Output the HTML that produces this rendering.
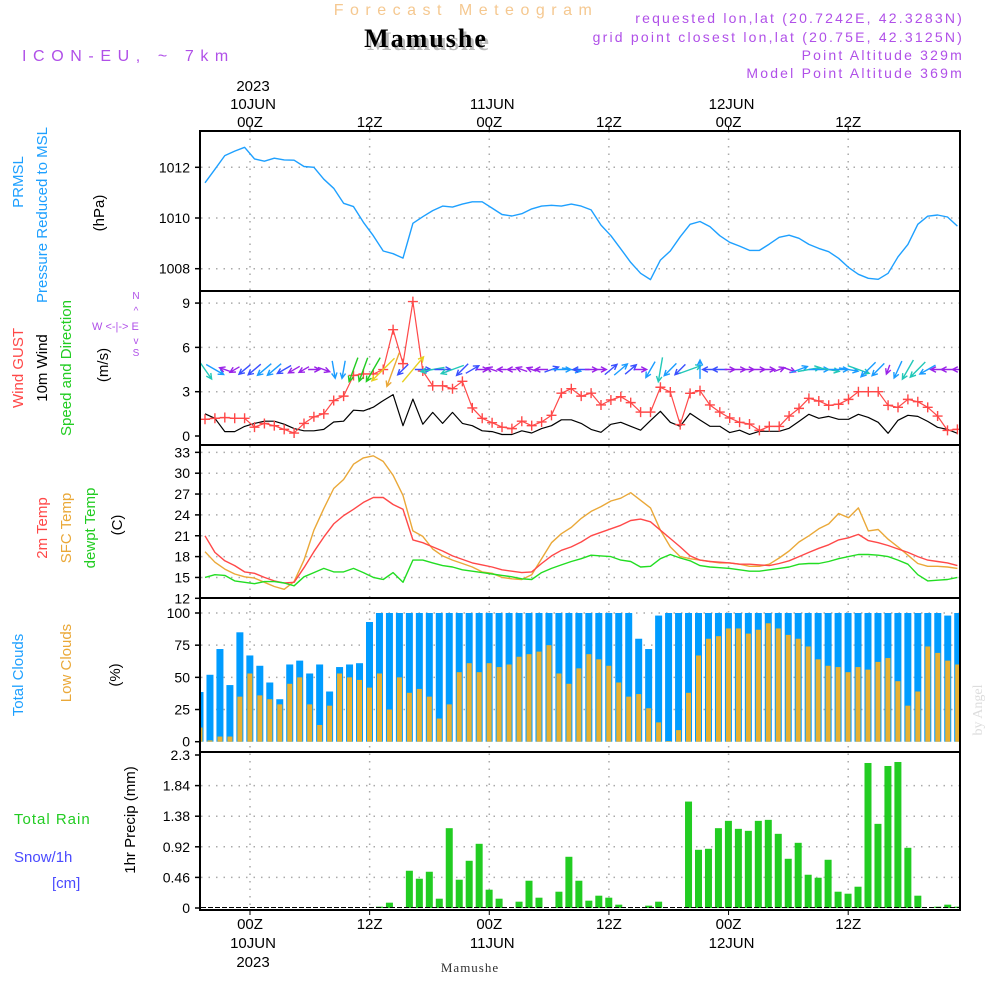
<!DOCTYPE html>
<html><head><meta charset="utf-8"><style>
html,body{margin:0;padding:0;background:#fff;width:1000px;height:1000px;overflow:hidden}
svg{display:block}
text{font-family:"Liberation Sans",sans-serif}
text.serif{font-family:"Liberation Serif",serif}
</style></head><body>
<svg id="chart" width="1000" height="1000" viewBox="0 0 1000 1000">
<defs><clipPath id="plotclip"><rect x="201" y="131" width="758" height="779"/></clipPath></defs>
<g>
<text x="466" y="15" text-anchor="middle" font-size="16" fill="#f5c890" letter-spacing="6.5">Forecast Meteogram</text>
<text class="serif" x="429" y="50" text-anchor="middle" font-size="26" font-weight="bold" fill="#bbb" letter-spacing="2">Mamushe</text>
<text class="serif" x="426" y="47" text-anchor="middle" font-size="26" font-weight="bold" fill="#000" letter-spacing="2">Mamushe</text>
<text x="22" y="61" font-size="16" fill="#b050e8" letter-spacing="6.6">ICON-EU, ~ 7km</text>
<g font-size="14" fill="#b050e8" text-anchor="end" letter-spacing="2.2">
<text x="964" y="23">requested lon,lat (20.7242E, 42.3283N)</text>
<text x="964" y="42">grid point closest lon,lat (20.75E, 42.3125N)</text>
<text x="964" y="60">Point Altitude 329m</text>
<text x="964" y="78">Model Point Altitude 369m</text>
</g>
</g>
<g id="layer"></g>
</svg>
<script>
// ---------- data ----------
const hours = Array.from({length:77},(_,k)=>k-5);
const pressure = [1011.39,1011.92,1012.46,1012.64,1012.79,1012.33,1012.24,1012.36,1012.29,1012.28,1012.03,1012.0,1011.53,1011.17,1010.58,1010.45,1009.83,1009.3,1008.7,1008.59,1008.42,1009.79,1010.05,1010.29,1010.47,1010.43,1010.55,1010.64,1010.64,1010.39,1010.14,1010.08,1010.17,1010.36,1010.47,1010.5,1010.47,1010.55,1010.47,1010.32,
1009.72,1009.3,1008.78,1008.25,1007.82,1007.57,1008.34,1008.7,1009.26,1009.75,1009.86,1009.66,1009.3,1009.04,1008.89,1008.72,1008.72,1008.97,1009.24,1009.32,1009.2,1008.96,1008.8,1008.67,1008.41,1008.05,1007.78,1007.62,1007.58,1007.82,1008.47,1008.96,1009.75,1010.07,1010.12,1010.04,1009.68];
const gust = [1.13,1.2,1.25,1.2,1.2,0.6,0.85,0.7,0.45,0.2,0.85,1.3,1.5,2.4,2.7,4.1,4.2,4.2,4.5,7.2,4.9,9.1,4.4,3.4,3.4,3.2,3.7,1.9,1.2,0.9,0.6,0.5,1.0,0.7,0.95,1.4,2.9,3.2,2.7,2.9,
2.1,2.44,2.66,2.26,1.62,1.62,3.3,2.98,0.77,2.89,3.07,2.1,1.62,1.22,0.93,0.81,0.38,0.65,0.65,1.35,1.87,2.55,2.37,2.08,2.15,2.48,3.0,3.0,3.0,2.08,1.94,2.48,2.32,1.94,1.35,0.38,0.45];
const wind = [1.5,1.2,0.3,0.3,0.65,0.85,1.0,1.0,0.8,0.5,0.35,0.35,0.45,0.95,1.0,1.75,1.7,1.95,2.4,2.8,0.7,2.5,0.8,1.6,0.85,1.6,0.85,0.7,0.35,0.3,0.1,0.1,0.35,0.2,0.5,0.7,1.1,1.1,0.85,0.45,
0.25,0.79,0.93,0.66,0.39,1.04,1.67,0.93,0.66,1.53,1.08,0.66,0.66,0.23,0.39,0.11,0.32,0.32,0.32,0.52,0.99,1.47,1.2,1.33,1.13,1.13,1.47,1.26,0.93,0.18,1.06,1.4,1.33,0.99,0.59,0.45,0.18];
const windDir = [55,30,200,150,140,140,140,140,150,150,150,0,20,80,100,110,110,120,135,110,135,-50,0,170,0,160,135,-30,0,200,180,180,200,200,180,-20,0,10,180,
0,0,-40,-40,-40,0,120,100,135,135,-20,-90,180,180,0,0,0,0,0,-20,20,-20,-10,0,10,0,10,20,135,135,110,115,120,135,150,180,180,180];
const temp2m = [21.0,18.6,17.4,16.7,15.8,15.6,15.0,14.5,14.2,14.3,16.4,18.7,20.8,22.7,23.9,24.8,25.8,26.5,26.5,25.5,24.8,20.4,20.0,19.4,18.8,18.1,17.6,17.1,16.8,16.5,16.1,15.9,15.7,15.8,17.0,18.1,18.9,19.4,20.1,21.0,
21.5,22.0,22.5,23.2,23.4,23.0,21.8,20.6,19.4,18.1,17.5,17.3,17.2,17.1,16.9,16.9,16.8,16.7,17.0,17.4,18.0,18.6,19.2,19.7,20.4,20.7,21.2,20.3,20.0,19.6,19.1,18.6,18.0,17.5,17.3,17.1,16.7];
const tempSfc = [18.7,17.2,16.2,15.5,15.1,14.9,14.3,13.7,13.3,14.4,17.5,21.8,24.9,27.8,29.1,31.3,32.2,32.5,31.7,29.7,26.8,21.7,20.9,19.1,18.1,17.5,17.0,16.5,15.8,15.6,15.0,14.8,14.7,15.4,17.7,20.0,21.3,22.2,23.5,24.5,
25.2,26.0,26.4,27.2,26.1,25.0,21.8,19.4,18.0,17.7,17.5,17.3,17.1,17.1,16.9,16.6,16.6,16.9,17.8,18.8,20.1,21.0,22.0,22.7,24.2,23.6,25.0,21.7,21.9,20.5,19.4,18.2,17.0,16.6,16.6,16.5,16.3];
const dewpt = [15.0,15.4,15.3,14.5,14.3,14.1,14.4,14.4,14.2,13.8,15.1,15.7,16.3,15.8,15.8,16.3,15.7,15.0,14.7,15.7,14.3,17.5,17.5,17.1,16.7,16.5,16.1,15.9,15.7,15.5,15.3,15.1,14.8,14.7,15.7,16.3,16.8,17.3,17.7,18.2,
18.1,18.0,17.5,17.3,16.5,16.6,17.7,18.3,17.8,17.4,16.7,16.5,16.4,16.3,16.1,15.9,15.9,16.1,16.3,16.5,16.9,17.0,17.0,17.3,17.7,18.0,18.3,18.3,18.2,18.0,17.5,16.9,15.4,14.5,14.6,14.7,15.0];
const totalClouds = [38.6,52,72,44,85,67,59,46,33,60,63,53,60,39,58,60,61,93,100,100,100,100,100,100,100,100,100,100,100,100,100,100,100,100,100,100,100,100,100,100,100,100,100,100,80,72,98,100,100,100,100,100,100,100,100,100,100,100,100,100,100,100,100,100,100,100,100,100,100,100,100,100,100,100,100,98,100];
const lowClouds = [11,1,4,4,35,53,36,33,29,45,50,29,13,28,53,50,48,42,53,25,50,38,41,35,18,29,54,61,54,61,58,60,66,68,70,75,53,45,57,68,
64,59,46,35,37,26,15,0.5,9,38,67,80,82,88,88,84,87,92,88,83,80,74,64,59,58,54,58,56,62,65,47,28,39,74,69,63,60];
const precip = [0,0,0,0,0,0,0,0,0,0,0,0,0,0,0,0,0,0,0.02,0.08,0,0.56,0.44,0.545,0.14,1.2,0.425,0.71,0.965,0.275,0.14,0,0.095,0.41,0.155,0,0.245,0.77,0.41,0.11,0.185,0.155,0.05,0,0,0.035,0.095,0,0,1.6,0.875,0.89,1.2,1.31,1.19,1.16,1.31,1.325,1.115,0.74,0.98,0.5,0.455,0.725,0.245,0.215,0.32,2.18,1.265,2.135,2.195,0.905,0.185,0,0.02,0.05,0.02];
const pTicks = [1008,1010,1012];
const wTicks = [0,3,6,9];
const tTicks = [12,15,18,21,24,27,30,33];
const cTicks = [0,25,50,75,100];
const rTicks = [0,0.46,0.92,1.38,1.84,2.3];
const gridHours = [0,12,24,36,48,60];
const topLabels = ["00Z","12Z","00Z","12Z","00Z","12Z"];

// ---------- scales ----------
const xb = k => 200 + k*9.97;
const xl = k => 205 + k*9.9;
const xh = h => 250 + h*9.97;
const yP = p => 167.3 + (1012-p)*25.35;
const yW = w => 436 - w*14.77;
const yT = t => 598.3 - (t-12)*6.95;
const yC = c => 741.7 - c*1.287;
const yR = r => 908 - r*66.52;

const NS='http://www.w3.org/2000/svg';
const layer=document.getElementById('layer');
function mk(tag,attrs,parent){const e=document.createElementNS(NS,tag);for(const k in attrs)e.setAttribute(k,attrs[k]);(parent||layer).appendChild(e);return e;}
function txt(x,y,s,size,fill,anchor,rot,parent){const e=mk('text',{x:x,y:y,'font-size':size,fill:fill,'text-anchor':anchor||'start'},parent);if(rot)e.setAttribute('transform','rotate('+rot+' '+x+' '+y+')');e.textContent=s;return e;}

const clipG = mk('g',{'clip-path':'url(#plotclip)'});



// grid
const grid = mk('g',{stroke:'#aaa','stroke-width':1.5,'stroke-dasharray':'1.5 6'},clipG);


gridHours.forEach(h=>{const l=mk('line',{x1:xh(h),x2:xh(h),y1:131,y2:910},grid);

});
function hgrid(vals,fn,name){vals.forEach(v=>{const l=mk('line',{x1:201,x2:959,y1:fn(v),y2:fn(v)},grid);

});}
hgrid(pTicks,yP,'pressure-gridline');hgrid(wTicks.slice(1),yW,'wind-gridline');hgrid(tTicks.slice(1),yT,'temp-gridline');hgrid(cTicks.slice(1),yC,'cloud-gridline');hgrid(rTicks.slice(1,5),yR,'precip-gridline');

function line(arr,fn,color,name,w){const pts=arr.map((v,k)=>xl(k).toFixed(1)+','+fn(v).toFixed(1)).join(' ');const p=mk('polyline',{points:pts,fill:'none',stroke:color,'stroke-width':w||1.4,'stroke-linejoin':'round'},clipG);

return p;}

// pressure
line(pressure,yP,'#1ea0ff','pressure-line');

// clouds
totalClouds.forEach((v,k)=>{const r=mk('rect',{x:xb(k)-3.5,y:yC(v),width:7,height:yC(0)-yC(v),fill:'#009cff'},clipG);

});
lowClouds.forEach((v,k)=>{const r=mk('rect',{x:xb(k)-2.5,y:yC(v),width:5,height:yC(0)-yC(v),fill:'#e8b030'},clipG);

});

// precip
precip.forEach((v,k)=>{if(v<=0)return;const r=mk('rect',{x:xb(k)-3.5,y:yR(v),width:7,height:yR(0)-yR(v),fill:'#22cc22'},clipG);

});
const zl=mk('line',{x1:201,x2:959,y1:907.5,y2:907.5,stroke:'#000','stroke-width':1,'stroke-dasharray':'5 2'},clipG);



// temps
line(tempSfc,yT,'#eaa838','sfc-temp-line');
line(temp2m,yT,'#ff4848','temp-2m-line');
line(dewpt,yT,'#22dd22','dewpoint-line');

// wind
line(wind,yW,'#000','wind-speed-line',1.2);
line(gust,yW,'#ff4848','gust-line',1.2);
gust.forEach((v,k)=>{const x=xl(k),y=yW(v);const g=mk('path',{d:`M${x-5},${y}h10M${x},${y-5}v10`,stroke:'#ff4848','stroke-width':1.4},clipG);

});
function wcol(w){return w<0.6?'#9a22e8':w<0.9?'#3a50ff':w<1.3?'#1a9cff':w<1.7?'#22c8b8':w<2.2?'#22cc22':w<2.6?'#e8d020':'#eaa838';}
windDir.forEach((d,k)=>{const w=wind[k];const L=8+w*10;const a=d*Math.PI/180;const cx=xl(k),cy=yW(4.5);
const x1=cx-Math.cos(a)*L/2,y1=cy-Math.sin(a)*L/2,x2=cx+Math.cos(a)*L/2,y2=cy+Math.sin(a)*L/2;
const h=6,b1=a+Math.PI*0.85,b2=a-Math.PI*0.85;
const c=wcol(w);
const p=mk('path',{d:`M${x1.toFixed(1)},${y1.toFixed(1)}L${x2.toFixed(1)},${y2.toFixed(1)}M${(x2+Math.cos(b1)*h).toFixed(1)},${(y2+Math.sin(b1)*h).toFixed(1)}L${x2.toFixed(1)},${y2.toFixed(1)}L${(x2+Math.cos(b2)*h).toFixed(1)},${(y2+Math.sin(b2)*h).toFixed(1)}`,stroke:c,fill:'none','stroke-width':1.4},clipG);

});

// frames
const fr=mk('g',{stroke:'#000',fill:'none','stroke-width':2});


mk('rect',{x:200,y:131,width:760,height:779},fr);
[291,445,598,752].forEach(y=>mk('line',{x1:200,x2:960,y1:y,y2:y},fr));
gridHours.forEach(h=>{mk('line',{x1:xh(h),x2:xh(h),y1:126,y2:131,'stroke-width':1},fr);mk('line',{x1:xh(h),x2:xh(h),y1:910,y2:915,'stroke-width':1},fr);});

// y tick labels
function yl(vals,fn,name,fmt){vals.forEach(v=>{const t=txt(190,fn(v)+5,fmt?fmt(v):String(v),14,'#000','end');


mk('line',{x1:195,x2:200,y1:fn(v),y2:fn(v),stroke:'#000','stroke-width':1.5});});}
yl(pTicks,yP,'pressure-tick-label');yl(wTicks,yW,'wind-tick-label');yl(tTicks,yT,'temp-tick-label');yl(cTicks,yC,'cloud-tick-label');
yl(rTicks,yR,'precip-tick-label',v=>v===0?'0':(v===2.3?'2.3':v.toFixed(2)));

// x labels
gridHours.forEach((h,i)=>{const t=txt(xh(h),127,topLabels[i],15,'#000','middle');


const b=txt(xh(h),929,topLabels[i],15,'#000','middle');

});
[[0,'10JUN'],[24,'11JUN'],[48,'12JUN']].forEach(([h,s])=>{const t=txt(xh(h)+3,109,s,15,'#000','middle');


const b=txt(xh(h)+3,948,s,15,'#000','middle');

});
const y1=txt(xh(0)+3,91,'2023',15,'#000','middle');


const y2=txt(xh(0)+3,967,'2023',15,'#000','middle');


const ft=txt(470,972,'Mamushe',13,'#333','middle');


ft.setAttribute('class','serif');ft.setAttribute('letter-spacing','1');

// left titles (rotated)
const L=[[23,182,'PRMSL','#1ea0ff'],[47,215,'Pressure Reduced to MSL','#1ea0ff'],[104,213,'(hPa)','#000'],
[23,368,'Wind GUST','#ff4848'],[47,368,'10m Wind','#000'],[71,368,'Speed and Direction','#22cc22'],[108,365,'(m/s)','#000'],
[47,528,'2m Temp','#ff4848'],[71,528,'SFC Temp','#eaa838'],[95,528,'dewpt Temp','#22cc22'],[122,525,'(C)','#000'],
[23,675,'Total Clouds','#1ea0ff'],[71,663,'Low Clouds','#eaa838'],[120,675,'(%)','#000'],
[135,820,'1hr Precip (mm)','#000']];
L.forEach(([x,y,s,c])=>{const t=txt(x,y,s,15,c,'middle',-90);

});
const r1=txt(14,824,'Total  Rain',15,'#22cc22','start');r1.setAttribute('xml:space','preserve');


r1.setAttribute('letter-spacing','1');
const s1=txt(14,862,'Snow/1h',15,'#4a4aff','start');


const s2=txt(52,888,'[cm]',15,'#4a4aff','start');


// compass
const cg=mk('g',{fill:'#b050e8','font-size':11});


txt(92,330,'W <-|-> E',11,'#b050e8','start',0,cg);
txt(136,299,'N',10,'#b050e8','middle',0,cg);
txt(136,314,'^',10,'#b050e8','middle',0,cg);
txt(136,344,'v',10,'#b050e8','middle',0,cg);
txt(136,356,'S',10,'#b050e8','middle',0,cg);
const an=txt(982,710,'by Angel',14,'#ddd','middle',-90);


an.setAttribute('class','serif');
</script>
</body></html>
